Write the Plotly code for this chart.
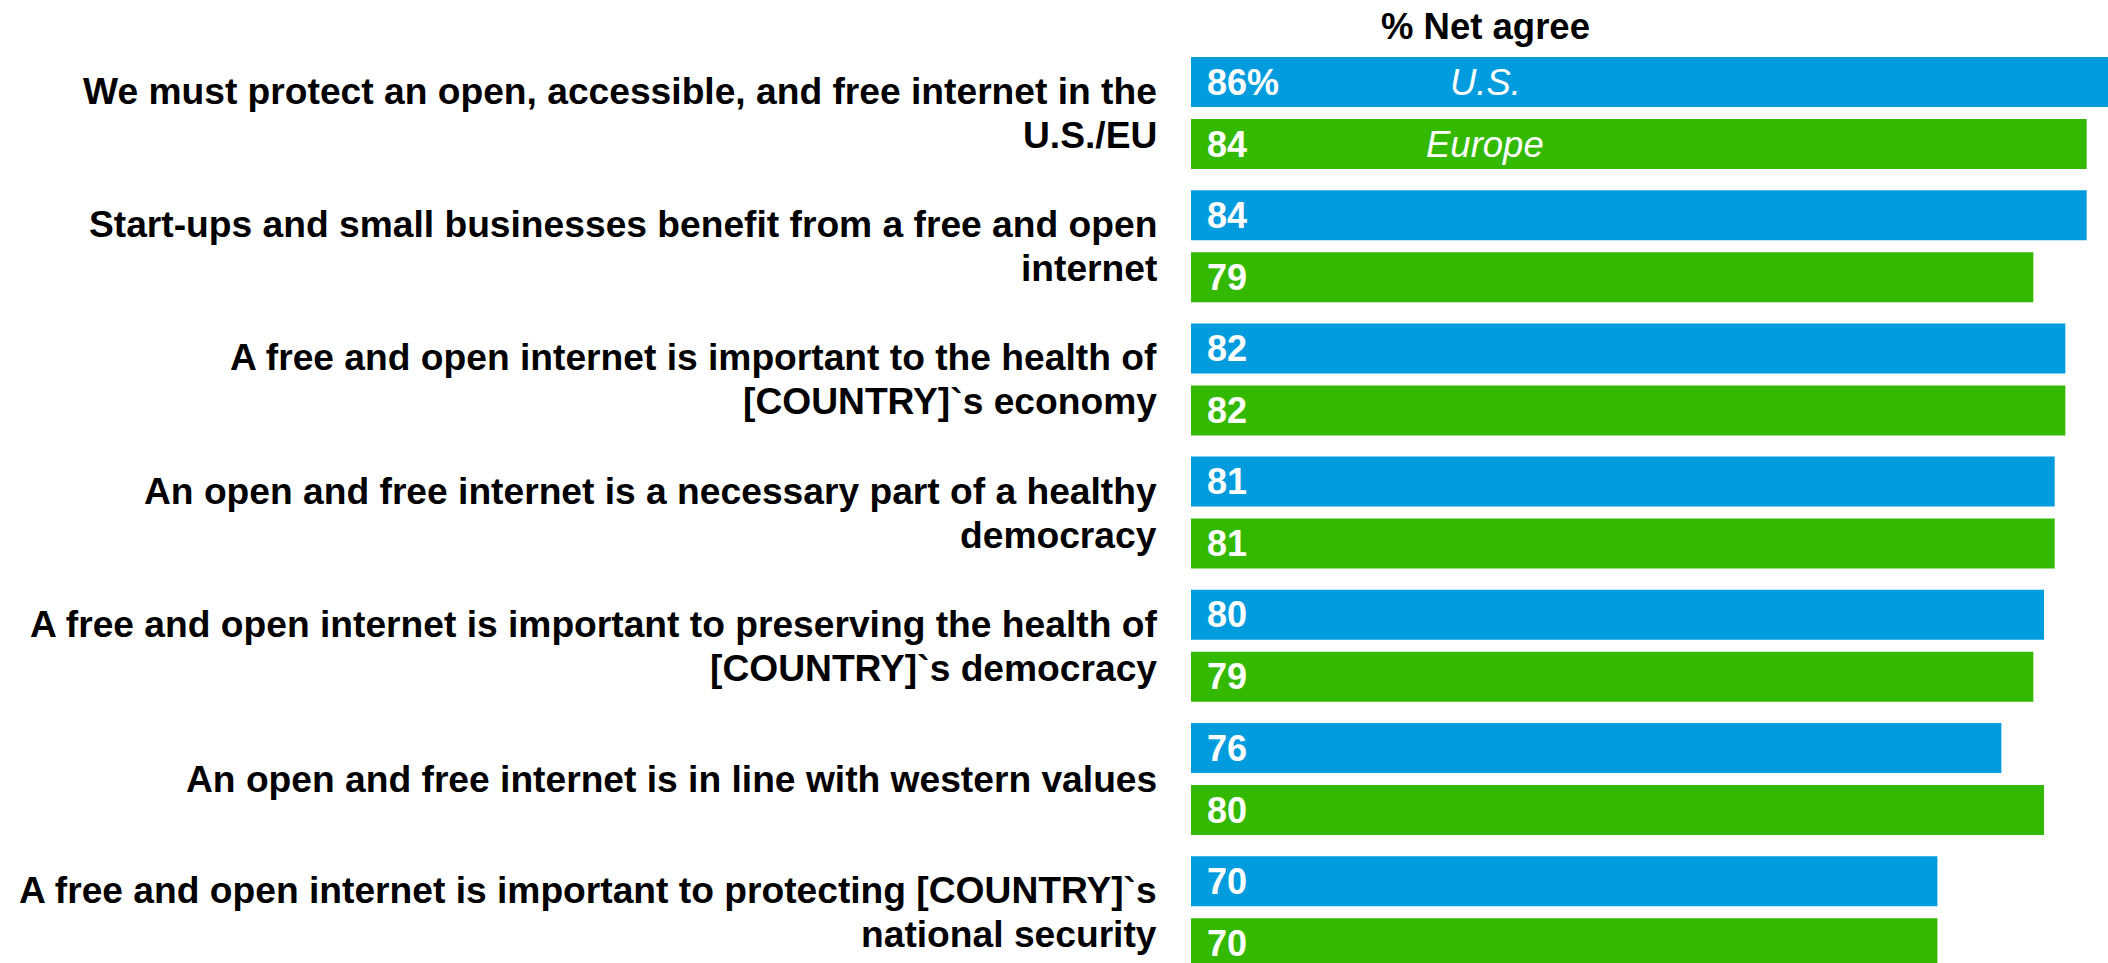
import plotly.graph_objects as go

statements = [
    "We must protect an open, accessible, and free internet in the<br>U.S./EU",
    "Start-ups and small businesses benefit from a free and open<br>internet",
    "A free and open internet is important to the health of<br>[COUNTRY]`s economy",
    "An open and free internet is a necessary part of a healthy<br>democracy",
    "A free and open internet is important to preserving the health of<br>[COUNTRY]`s democracy",
    "An open and free internet is in line with western values",
    "A free and open internet is important to protecting [COUNTRY]`s<br>national security",
]
us_values = [86, 84, 82, 81, 80, 76, 70]
europe_values = [84, 79, 82, 81, 79, 80, 70]
series_names = ["U.S.", "Europe"]
title_text = "% Net agree"

BLUE = "#009CDE"
GREEN = "#32B900"
FONT = "Liberation Sans, Arial, sans-serif"

W, H = 2108, 963
L = 1191
pitch = 133.2          # px per category
bar_px = 50
gap_px = 12
first_center_px = 113
line_px = 44           # spacing between label lines
label_gap = 32         # gap between label right edge and bars

pos = list(range(len(statements)))
bw = bar_px / pitch
us_off = -(bar_px + gap_px / 2) / pitch
eu_off = (gap_px / 2) / pitch
us_c = us_off + bw / 2
eu_c = eu_off + bw / 2

fig = go.Figure()
fig.add_trace(go.Bar(y=pos, x=us_values, orientation="h", width=bw, offset=us_off,
                     marker=dict(color=BLUE, line=dict(width=0)), name=series_names[0],
                     hoverinfo="skip"))
fig.add_trace(go.Bar(y=pos, x=europe_values, orientation="h", width=bw, offset=eu_off,
                     marker=dict(color=GREEN, line=dict(width=0)), name=series_names[1],
                     hoverinfo="skip"))

ann = []
# category labels, one annotation per line for tight line spacing
for i, s in enumerate(statements):
    lines = s.split("<br>")
    n = len(lines)
    for k, ln in enumerate(lines):
        dy = (k - (n - 1) / 2) * line_px / pitch
        ann.append(dict(x=0, y=i + dy, xref="x", yref="y", text=ln, showarrow=False,
                        xanchor="right", yanchor="middle", xshift=-label_gap,
                        font=dict(family=FONT, size=37.2, color="black", weight="bold")))

for i, (u, e) in enumerate(zip(us_values, europe_values)):
    ut = f"{u}%" if i == 0 else f"{u}"
    ann.append(dict(x=0, y=i + us_c, xref="x", yref="y", text=ut, showarrow=False,
                    xanchor="left", yanchor="middle", xshift=14,
                    font=dict(family=FONT, size=36, color="white", weight="bold")))
    ann.append(dict(x=0, y=i + eu_c, xref="x", yref="y", text=f"{e}", showarrow=False,
                    xanchor="left", yanchor="middle", xshift=14,
                    font=dict(family=FONT, size=36, color="white", weight="bold")))

# series name labels inside first pair of bars
ann.append(dict(x=27.6, y=0 + us_c, xref="x", yref="y", text=series_names[0], showarrow=False,
                xanchor="center", yanchor="middle",
                font=dict(family=FONT, size=36.5, color="white", style="italic")))
ann.append(dict(x=27.6, y=0 + eu_c, xref="x", yref="y", text=series_names[1], showarrow=False,
                xanchor="center", yanchor="middle",
                font=dict(family=FONT, size=36.5, color="white", style="italic")))
# title
ann.append(dict(x=27.6, y=1 - 26 / H, xref="x", yref="paper", text=title_text, showarrow=False,
                xanchor="center", yanchor="middle",
                font=dict(family=FONT, size=36.5, color="black", weight="bold")))

top_val = 0 - first_center_px / pitch
bot_val = top_val + H / pitch

fig.update_layout(
    width=W, height=H,
    margin=dict(l=L, r=0, t=0, b=0, pad=0),
    paper_bgcolor="white", plot_bgcolor="white",
    barmode="overlay",
    showlegend=False,
    annotations=ann,
    xaxis=dict(range=[0, 86], visible=False, fixedrange=True),
    yaxis=dict(range=[bot_val, top_val], tickvals=pos, showticklabels=False,
               showgrid=False, zeroline=False, showline=False, ticks="",
               fixedrange=True),
)

fig.write_html("out.html", config={"displayModeBar": False})
